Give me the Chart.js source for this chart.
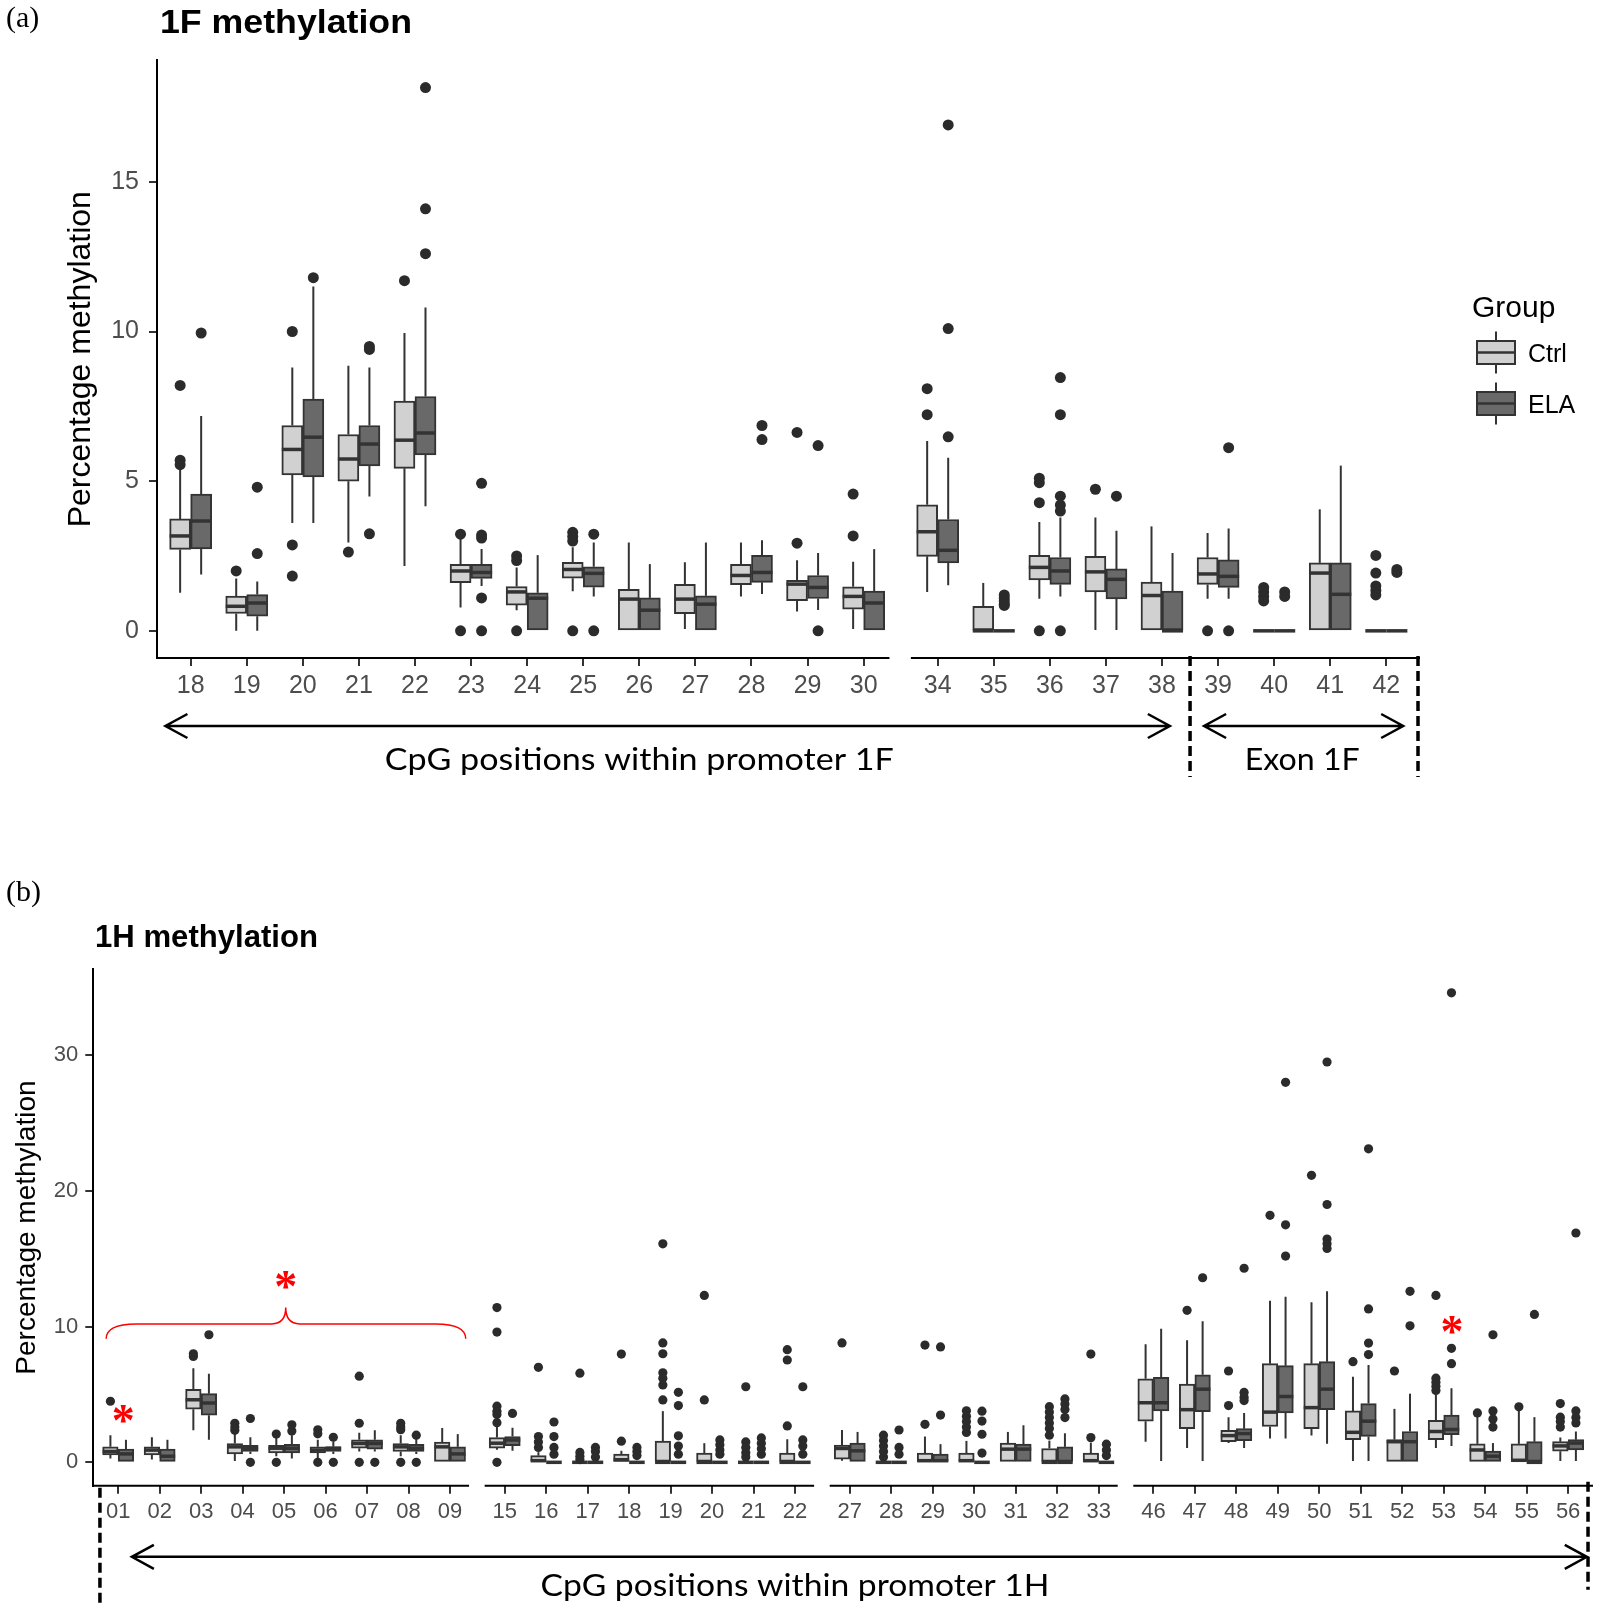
<!DOCTYPE html>
<html>
<head>
<meta charset="utf-8">
<script src="https://cdn.jsdelivr.net/npm/chart.js@4.4.1/dist/chart.umd.min.js"></script>
<style>
  html, body { margin: 0; padding: 0; background: #fff; }
  #wrap { position: relative; width: 1605px; height: 1609px; overflow: hidden; }
  canvas { position: absolute; left: 0; }
</style>
</head>
<body>
<div id="wrap">
  <canvas id="chartA" width="1605" height="800" style="top:0"></canvas>
  <canvas id="chartB" width="1605" height="809" style="top:800px"></canvas>
</div>
<script>
// rows are [lower whisker, q1, median, q3, upper whisker]

// (a) promoter / exon 1F
const aSites = ['18','19','20','21','22','23','24','25','26','27','28','29','30','34','35','36','37','38','39','40','41','42'];
const aGroups = [13, 9];
const aYTicks = [0, 5, 10, 15];
const aCtrl = [
  [1.27, 2.72, 3.17, 3.74, 5.39], [0, 0.58, 0.82, 1.16, 1.75], [3.6, 5.21, 6.06, 6.86, 8.8],
  [2.95, 5.0, 5.74, 6.56, 8.86], [2.17, 5.43, 6.37, 7.68, 9.95], [0.78, 1.61, 2.0, 2.22, 3.07],
  [0.69, 0.86, 1.3, 1.48, 2.12], [1.32, 1.76, 2.05, 2.29, 2.79], [0, 0, 1.06, 1.39, 2.95],
  [0.06, 0.57, 1.06, 1.55, 2.29], [1.15, 1.54, 1.85, 2.22, 2.95], [0.65, 1.01, 1.56, 1.69, 2.36],
  [0.06, 0.72, 1.15, 1.47, 2.31], [1.3, 2.49, 3.31, 4.21, 6.34], [0, 0, 0, 0.82, 1.6],
  [1.07, 1.7, 2.12, 2.52, 3.64], [0.03, 1.3, 1.97, 2.49, 3.79], [0, 0, 1.18, 1.63, 3.49],
  [1.07, 1.55, 1.9, 2.45, 3.27], [0, 0, 0, 0, 0], [0, 0, 1.93, 2.27, 4.06], [0, 0, 0, 0, 0]
];
const aEla = [
  [1.88, 2.74, 3.67, 4.57, 7.18], [0, 0.49, 0.93, 1.21, 1.65], [3.6, 5.14, 6.47, 7.74, 11.5],
  [4.49, 5.51, 6.24, 6.86, 8.8], [4.16, 5.88, 6.61, 7.83, 10.8], [1.5, 1.75, 1.95, 2.22, 2.73],
  [0, 0, 1.09, 1.27, 2.53], [1.15, 1.46, 1.92, 2.14, 2.95], [0, 0, 0.69, 1.1, 2.23],
  [0, 0, 0.89, 1.17, 2.95], [1.23, 1.62, 1.95, 2.52, 3.03], [0.7, 1.08, 1.45, 1.85, 2.6],
  [0, 0, 0.93, 1.33, 2.73], [1.52, 2.27, 2.69, 3.72, 5.78], [0, 0, 0, 0, 0],
  [1.15, 1.55, 2.0, 2.45, 3.79], [0.03, 1.07, 1.72, 2.07, 3.34], [0, 0, 0, 1.33, 2.6],
  [1.07, 1.45, 1.82, 2.37, 3.42], [0, 0, 0, 0, 0], [0, 0, 1.22, 2.27, 5.52], [0, 0, 0, 0, 0]
];
const aCtrlOut = [
  [8.2, 5.7, 5.55], [2.0], [10.0, 2.87, 1.83], [2.63], [11.7], [3.23, 0], [2.5, 2.35, 0],
  [3.29, 3.15, 3.0, 0], [], [], [], [6.63, 2.93], [4.57, 3.17], [8.09, 7.22], [],
  [5.1, 4.95, 4.28, 0], [4.73], [], [0], [1.45, 1.3, 1.15, 1.0], [], [2.52, 1.93, 1.5, 1.35, 1.2]
];
const aElaOut = [
  [9.95], [4.8, 2.58], [11.8], [9.5, 9.4, 3.24], [18.15, 14.1, 12.6], [4.93, 3.2, 3.1, 1.1, 0],
  [], [3.23, 0], [], [], [6.86, 6.39], [6.19, 0], [], [16.9, 10.1, 6.48], [1.2, 1.1, 1.0, 0.9, 0.85],
  [8.46, 7.22, 4.5, 4.2, 4.0, 0], [4.5], [], [6.12, 0], [1.3, 1.15], [], [2.05, 1.95]
];

// (b) promoter 1H
const bSites = ['01','02','03','04','05','06','07','08','09','15','16','17','18','19','20','21','22',
  '27','28','29','30','31','32','33','46','47','48','49','50','51','52','53','54','55','56'];
const bGroups = [9, 8, 7, 11];
const bYTicks = [0, 10, 20, 30];
const bCtrl = [
  [0.28, 0.55, 0.8, 1.14, 2.0], [0.2, 0.55, 0.9, 1.14, 1.84], [2.36, 3.92, 4.61, 5.38, 6.94],
  [0.1, 0.62, 1.14, 1.39, 2.18], [0.45, 0.69, 1.04, 1.25, 2.0], [0.28, 0.69, 0.9, 1.14, 1.66],
  [0.8, 1.04, 1.39, 1.66, 2.18], [0.45, 0.8, 1.14, 1.39, 2.0], [0, 0, 1.14, 1.49, 2.53],
  [0.92, 1.05, 1.41, 1.82, 2.6], [0, 0, 0.12, 0.49, 0.75], [0, 0, 0, 0, 0],
  [0, 0, 0.19, 0.61, 0.85], [0, 0, 0, 1.56, 3.77], [0, 0, 0, 0.68, 1.41],
  [0, 0, 0, 0, 0], [0, 0, 0, 0.68, 1.7],
  [0.12, 0.24, 1.02, 1.27, 2.38], [0, 0, 0, 0, 0], [0, 0, 0.12, 0.68, 1.9],
  [0, 0, 0.12, 0.68, 1.58], [0, 0, 0.97, 1.41, 2.24], [0, 0, 0, 1.02, 1.6], [0, 0, 0.12, 0.68, 1.45],
  [1.52, 3.03, 4.39, 6.15, 8.7], [1.06, 2.48, 3.88, 5.76, 9.0], [1.42, 1.52, 1.97, 2.36, 3.33],
  [1.76, 2.64, 3.7, 7.27, 11.9], [1.97, 2.48, 4.03, 7.27, 11.8], [0.1, 1.67, 2.21, 3.79, 6.3],
  [0, 0, 1.52, 1.67, 3.94], [1.06, 1.67, 2.27, 3.09, 5.0], [0, 0, 0.91, 1.36, 3.5],
  [0, 0, 0.15, 1.36, 3.9], [0.1, 0.82, 1.21, 1.52, 1.82]
];
const bEla = [
  [0, 0, 0.62, 0.97, 1.66], [0, 0, 0.45, 0.97, 1.66], [1.66, 3.47, 4.37, 5.06, 6.52],
  [0.62, 0.8, 1.04, 1.25, 1.84], [0.28, 0.69, 1.04, 1.32, 2.0], [0.62, 0.8, 1.04, 1.14, 1.5],
  [0.8, 0.97, 1.39, 1.66, 2.36], [0.62, 0.8, 1.04, 1.32, 1.8], [0, 0, 0.62, 1.14, 2.08],
  [0.85, 1.22, 1.65, 1.9, 2.55], [0, 0, 0, 0, 0], [0, 0, 0, 0, 0],
  [0, 0, 0, 0, 0], [0, 0, 0, 0, 0], [0, 0, 0, 0, 0],
  [0, 0, 0, 0, 0], [0, 0, 0, 0, 0],
  [0, 0, 0.85, 1.41, 2.24], [0, 0, 0, 0, 0], [0, 0, 0.12, 0.61, 1.34],
  [0, 0, 0, 0, 0], [0, 0, 0.97, 1.34, 2.73], [0, 0, 0, 1.14, 2.14], [0, 0, 0, 0, 0],
  [0.1, 3.79, 4.39, 6.27, 9.85], [0.1, 3.73, 5.39, 6.45, 10.4], [1.06, 1.6, 2.12, 2.48, 3.64],
  [1.76, 3.64, 4.85, 7.12, 12.2], [1.36, 3.88, 5.39, 7.42, 12.6], [0.1, 1.91, 3.03, 4.33, 7.18],
  [0, 0, 1.52, 2.27, 5.06], [1.21, 2.03, 2.42, 3.48, 5.45], [0, 0, 0.45, 0.82, 1.42],
  [0, 0, 0, 1.52, 3.33], [0.1, 0.91, 1.42, 1.67, 2.27]
];
const bCtrlOut = [
  [4.5], [], [8.0, 7.8], [2.88, 2.6, 2.36], [2.08, 0], [2.4, 2.1, 0], [6.35, 2.88, 0],
  [2.88, 2.6, 2.4, 0], [],
  [11.4, 9.6, 4.14, 3.77, 3.53, 2.92, 0], [7.0, 1.9, 1.5, 1.1], [6.57, 0.73, 0.45, 0.2],
  [7.98, 1.56], [16.1, 8.8, 8.0, 6.6, 6.2, 5.7, 4.6], [12.3, 4.6], [5.57, 1.5, 1.1, 0.7, 0.4],
  [8.3, 7.54, 2.68],
  [8.8], [2.0, 1.6, 1.2, 0.8, 0.4], [8.64, 2.8], [3.8, 3.4, 3.0, 2.6, 2.2], [],
  [4.1, 3.7, 3.3, 2.9, 2.5, 2.0], [7.98, 1.82],
  [], [11.2], [6.73, 4.18], [18.2], [21.15], [7.42], [6.73], [12.3, 6.2, 5.9, 5.6, 5.3],
  [3.64], [4.09], [4.33, 3.33, 3.0, 2.6]
];
const bElaOut = [
  [], [], [9.4], [3.23, 0], [2.77, 2.3], [1.84, 0], [0], [2.0, 0], [],
  [3.6], [2.97, 1.9, 1.1, 0.6], [1.1, 0.8, 0.4], [1.1, 0.8, 0.5], [5.16, 4.18, 1.95, 1.2, 0.6],
  [1.65, 1.3, 0.9, 0.6], [1.8, 1.4, 1.0, 0.6], [5.57, 1.65, 1.2, 0.6],
  [], [2.38, 1.1, 0.6], [8.5, 3.48], [3.77, 3.04, 2.07, 0.68], [], [4.67, 4.3, 3.9, 3.3],
  [1.34, 0.9, 0.5],
  [], [13.6], [14.3, 5.15, 4.8, 4.55], [28.0, 17.5, 15.2], [29.5, 19.0, 16.45, 16.1, 15.76],
  [23.1, 11.3, 8.79, 7.94], [12.6, 10.06], [34.6, 8.4, 7.27], [9.4, 3.79, 3.2, 2.6], [10.9],
  [16.9, 3.79, 3.3, 2.9]
];

const CTRL_FILL = '#d1d1d1';
const ELA_FILL = '#696969';
const EDGE = '#333333';
const DOT = '#2b2b2b';
const TICK = '#4d4d4d';
const GAP = 0.32;     // extra space between the sub panels, in category units
const DODGE = 0.1875; // half of the dodge width (0.75 / 4)

Chart.defaults.font.family = "'Liberation Sans', Arial, sans-serif";

function positions(groups) {
  const pos = [];
  let k = 0;
  groups.forEach((n, g) => {
    for (let i = 0; i < n; i++) { pos.push(k + g * GAP); k++; }
  });
  return pos;
}

// --- little drawing helpers for the annotations ---
function label(ctx, str, x, y, font, opt = {}) {
  ctx.save();
  ctx.font = font;
  ctx.fillStyle = opt.color || '#000';
  ctx.textAlign = opt.align || 'left';
  ctx.textBaseline = 'alphabetic';
  ctx.translate(x, y);
  if (opt.rot) ctx.rotate(opt.rot);
  if (opt.width) ctx.scale(opt.width / ctx.measureText(str).width, 1);
  ctx.fillText(str, 0, 0);
  ctx.restore();
}

function dashed(ctx, x, y0, y1) {
  ctx.save();
  ctx.strokeStyle = '#000';
  ctx.lineWidth = 3.5;
  ctx.setLineDash([10, 5]);
  ctx.beginPath();
  ctx.moveTo(x, y0);
  ctx.lineTo(x, y1);
  ctx.stroke();
  ctx.restore();
}

function arrow(ctx, x0, x1, y) {
  ctx.save();
  ctx.strokeStyle = '#000';
  ctx.lineWidth = 2.5;
  ctx.beginPath();
  ctx.moveTo(x0, y); ctx.lineTo(x1, y);
  ctx.moveTo(x0 + 22, y - 12); ctx.lineTo(x0, y); ctx.lineTo(x0 + 22, y + 12);
  ctx.moveTo(x1 - 22, y - 12); ctx.lineTo(x1, y); ctx.lineTo(x1 - 22, y + 12);
  ctx.stroke();
  ctx.restore();
}

function star(ctx, x, y) {
  label(ctx, '*', x, y + 22, 'bold 46px "Liberation Serif"', { align: 'center', color: '#ff0000' });
}

function legendKey(ctx, x0, top, fill) {
  const w = 38, h = 23, cx = x0 + w / 2;
  ctx.save();
  ctx.strokeStyle = EDGE;
  ctx.lineWidth = 2;
  ctx.beginPath();
  ctx.moveTo(cx, top - 9.5); ctx.lineTo(cx, top);
  ctx.moveTo(cx, top + h); ctx.lineTo(cx, top + h + 9.5);
  ctx.stroke();
  ctx.fillStyle = fill;
  ctx.fillRect(x0, top, w, h);
  ctx.strokeRect(x0, top, w, h);
  ctx.lineWidth = 2.5;
  ctx.beginPath();
  ctx.moveTo(x0, top + h / 2); ctx.lineTo(x0 + w, top + h / 2);
  ctx.stroke();
  ctx.restore();
}

// whiskers behind the boxes, medians on top of them
function boxParts(p) {
  const rowsOf = i => (i === 0 ? p.ctrl : p.ela);
  return {
    id: 'boxParts',
    beforeDatasetsDraw(chart) {
      const ctx = chart.ctx, y = chart.scales.y;
      ctx.save();
      ctx.strokeStyle = EDGE;
      ctx.lineWidth = 2;
      [0, 1].forEach(di => {
        const meta = chart.getDatasetMeta(di);
        rowsOf(di).forEach((r, i) => {
          const x = meta.data[i].x;
          ctx.beginPath();
          ctx.moveTo(x, y.getPixelForValue(r[0])); ctx.lineTo(x, y.getPixelForValue(r[1]));
          ctx.moveTo(x, y.getPixelForValue(r[3])); ctx.lineTo(x, y.getPixelForValue(r[4]));
          ctx.stroke();
        });
      });
      ctx.restore();
    },
    afterDatasetDraw(chart, args) {
      if (args.index > 1) return;
      const ctx = chart.ctx, y = chart.scales.y;
      ctx.save();
      ctx.strokeStyle = EDGE;
      ctx.lineWidth = 3.5;
      rowsOf(args.index).forEach((r, i) => {
        const el = args.meta.data[i];
        const py = y.getPixelForValue(r[2]);
        ctx.beginPath();
        ctx.moveTo(el.x - el.width / 2, py); ctx.lineTo(el.x + el.width / 2, py);
        ctx.stroke();
      });
      ctx.restore();
    }
  };
}

function decor(p, pos) {
  return {
    id: 'decor',
    afterDraw(chart) {
      const ctx = chart.ctx, ca = chart.chartArea;
      const X = v => chart.scales.x.getPixelForValue(v);
      const Y = v => chart.scales.y.getPixelForValue(v);
      const posOf = s => pos[p.sites.indexOf(s)];
      // broken x axis line, one piece per sub panel
      ctx.save();
      ctx.strokeStyle = '#000';
      ctx.lineWidth = 2;
      let k = 0;
      p.groups.forEach((n, g) => {
        const first = pos[k], last = pos[k + n - 1];
        const lo = g === 0 ? first - 0.6 : first - 0.46;
        const hi = g === p.groups.length - 1 ? last + 0.6 : last + 0.46;
        ctx.beginPath();
        ctx.moveTo(X(lo) - 1, ca.bottom);
        ctx.lineTo(X(hi), ca.bottom);
        ctx.stroke();
        k += n;
      });
      ctx.restore();
      p.decorate(ctx, ca, X, Y, posOf);
    }
  };
}

function makeChart(id, p) {
  const pos = positions(p.groups);
  const all = [p.ctrl, p.ela, p.ctrlOut, p.elaOut].flat(2);
  const yMax = Math.max(...all);
  const pad = yMax * 0.05;
  const canvas = document.getElementById(id);
  const W = canvas.width, H = canvas.height, a = p.area;

  const boxData = (rows, off) => rows.map((r, i) => ({ x: pos[i] + off, y: [r[1], r[3]] }));
  const outData = (outs, off) => outs.flatMap((list, i) => list.map(v => ({ x: pos[i] + off, y: v })));

  const barStyle = {
    borderColor: EDGE, borderWidth: 2, borderSkipped: false,
    grouped: false, barPercentage: 1, categoryPercentage: 1, order: 2
  };
  const dotStyle = {
    type: 'scatter', pointRadius: p.dotR, pointHoverRadius: p.dotR,
    backgroundColor: DOT, borderWidth: 0, order: 1
  };
  const tickGrid = {
    display: true, drawOnChartArea: false, drawTicks: true,
    tickLength: 8, color: EDGE, lineWidth: 2, offset: false
  };

  return new Chart(canvas, {
    type: 'bar',
    data: {
      datasets: [
        { label: 'Ctrl', data: boxData(p.ctrl, -DODGE), backgroundColor: CTRL_FILL, ...barStyle },
        { label: 'ELA', data: boxData(p.ela, DODGE), backgroundColor: ELA_FILL, ...barStyle },
        { label: 'Ctrl outliers', data: outData(p.ctrlOut, -DODGE), ...dotStyle },
        { label: 'ELA outliers', data: outData(p.elaOut, DODGE), ...dotStyle }
      ]
    },
    options: {
      responsive: false,
      animation: false,
      events: [],
      layout: { padding: { left: 0, top: a.top, right: W - a.right, bottom: 0 } },
      plugins: { legend: { display: false }, tooltip: { enabled: false } },
      scales: {
        x: {
          type: 'linear', min: -0.6, max: pos[pos.length - 1] + 0.6, offset: false, bounds: 'data',
          afterBuildTicks: s => { s.ticks = pos.map(v => ({ value: v })); },
          afterFit: s => { s.height = H - a.bottom; },
          grid: tickGrid,
          border: { display: false },
          ticks: {
            autoSkip: false, maxRotation: 0, minRotation: 0, padding: p.xPad,
            color: TICK, font: { size: p.xTickSize },
            callback: (v, i) => p.sites[i]
          }
        },
        y: {
          type: 'linear', min: -pad, max: yMax + pad, bounds: 'data',
          afterBuildTicks: s => { s.ticks = p.yTicks.map(v => ({ value: v })); },
          afterFit: s => { s.width = a.left; },
          grid: tickGrid,
          border: { display: true, color: '#000', width: 2 },
          ticks: { padding: p.yPad, color: TICK, font: { size: p.yTickSize } }
        }
      }
    },
    plugins: [boxParts(p), decor(p, pos)]
  });
}

makeChart('chartA', {
  sites: aSites, groups: aGroups, yTicks: aYTicks,
  ctrl: aCtrl, ela: aEla, ctrlOut: aCtrlOut, elaOut: aElaOut,
  area: { left: 157, top: 60.4, right: 1420, bottom: 658 },
  xTickSize: 25, yTickSize: 25, xPad: 5, yPad: 10, dotR: 5.5,
  decorate(ctx, ca, X, Y, posOf) {
    label(ctx, '(a)', 6, 27, '30px "Liberation Serif"');
    label(ctx, '1F methylation', 160, 33, 'bold 33px "Liberation Sans"', { width: 252 });
    label(ctx, 'Percentage methylation', 90, (ca.top + ca.bottom) / 2, '32px "Liberation Sans"',
      { align: 'center', rot: -Math.PI / 2 });

    const split = (X(posOf('38')) + X(posOf('39'))) / 2;
    dashed(ctx, split, ca.bottom - 2, ca.bottom + 119);
    dashed(ctx, ca.right - 2, ca.bottom - 2, ca.bottom + 119);
    arrow(ctx, X(posOf('18') - 0.45), X(posOf('38') + 0.14), ca.bottom + 68);
    arrow(ctx, X(posOf('39') - 0.25), X(posOf('42') + 0.3), ca.bottom + 68);
    label(ctx, 'CpG positions within promoter 1F', X(posOf('26')), ca.bottom + 112, '30px Lato',
      { align: 'center', width: 509 });
    label(ctx, 'Exon 1F', (X(posOf('39')) + X(posOf('42'))) / 2, ca.bottom + 112, '30px Lato',
      { align: 'center', width: 115 });

    // legend
    label(ctx, 'Group', 1472, 317, '30px "Liberation Sans"');
    legendKey(ctx, 1477, 341, CTRL_FILL);
    legendKey(ctx, 1477, 392, ELA_FILL);
    label(ctx, 'Ctrl', 1528, 362, '25px "Liberation Sans"');
    label(ctx, 'ELA', 1528, 413, '25px "Liberation Sans"');
  }
});

makeChart('chartB', {
  sites: bSites, groups: bGroups, yTicks: bYTicks,
  ctrl: bCtrl, ela: bEla, ctrlOut: bCtrlOut, elaOut: bElaOut,
  area: { left: 93.3, top: 169.3, right: 1593, bottom: 685.8 },
  xTickSize: 22, yTickSize: 22, xPad: 5, yPad: 7, dotR: 4.6,
  decorate(ctx, ca, X, Y, posOf) {
    label(ctx, '(b)', 6, 101, '30px "Liberation Serif"');
    label(ctx, '1H methylation', 95, 147, 'bold 31px "Liberation Sans"', { width: 223 });
    label(ctx, 'Percentage methylation', 35, (ca.top + ca.bottom) / 2, '28px "Liberation Sans"',
      { align: 'center', rot: -Math.PI / 2 });

    dashed(ctx, X(posOf('01') - 0.44), ca.bottom + 2, ca.bottom + 119);
    dashed(ctx, X(posOf('56') + 0.48), ca.bottom - 4, ca.bottom + 104);
    arrow(ctx, X(posOf('01') + 0.33), X(posOf('56') + 0.45), ca.bottom + 71);
    label(ctx, 'CpG positions within promoter 1H', X(posOf('22')), ca.bottom + 110, '30px Lato',
      { align: 'center', width: 509 });

    // significance brace over 01-09
    const x0 = X(posOf('01') - 0.29), x1 = X(posOf('09') + 0.38), xm = X(posOf('05') + 0.04);
    const yb = Y(10.2), yt = Y(9.1), yp = Y(11.4);
    ctx.save();
    ctx.strokeStyle = '#ff0000';
    ctx.lineWidth = 1.5;
    ctx.beginPath();
    ctx.moveTo(x0, yt);
    ctx.quadraticCurveTo(x0, yb, x0 + 30, yb);
    ctx.lineTo(xm - 14, yb);
    ctx.quadraticCurveTo(xm, yb, xm, yp);
    ctx.quadraticCurveTo(xm, yb, xm + 14, yb);
    ctx.lineTo(x1 - 30, yb);
    ctx.quadraticCurveTo(x1, yb, x1, yt);
    ctx.stroke();
    ctx.restore();
    star(ctx, xm, Y(13.46));
    star(ctx, X(posOf('01') + 0.12), Y(3.57));
    star(ctx, X(posOf('53') + 0.2), Y(10.15));
  }
});
</script>
</body>
</html>
